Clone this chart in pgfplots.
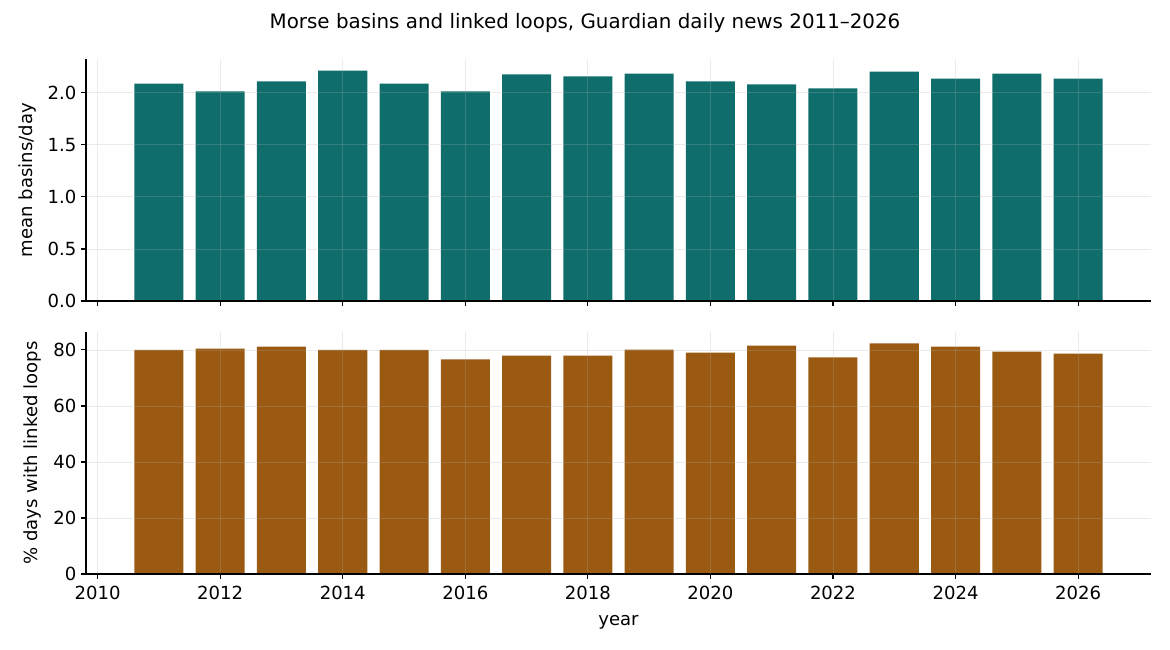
\documentclass[border=0pt]{standalone}
\usepackage{fontspec}
\setmainfont{DejaVu Sans}
\usepackage{pgfplots}
\pgfplotsset{compat=1.18}

\definecolor{basinteal}{RGB}{15,110,107}
\definecolor{loopbrown}{RGB}{154,90,18}
\definecolor{gridgrey}{RGB}{176,176,176}

% one px of the 1170x650 reference = 0.72pt
\pgfplotsset{
  panel/.style={
    scale only axis,
    width=766.8pt, height=174.24pt,
    anchor=south west,
    xmin=2009.81, xmax=2027.19,
    ymin=0,
    xtick={2010,2012,...,2026},
    axis x line*=bottom, axis y line*=left,
    axis line style={-, line width=0.8pt},
    tick align=outside,
    major tick length=3.5pt,
    tick style={black, line width=0.8pt},
    grid=major,
    grid style={gridgrey, opacity=0.25, line width=0.6pt},
    axis on top,
    ybar, bar width=0.8,
    tick label style={font=\fontsize{13}{15}\selectfont},
    xticklabel style={yshift=-2pt},
    label style={font=\fontsize{13}{15}\selectfont},
    /pgf/number format/assume math mode=true,
    /pgf/number format/1000 sep={},
  },
}

\begin{document}
\begin{tikzpicture}
\path[use as bounding box] (0,0) rectangle (842.4pt,468pt);

\node[font=\fontsize{14.3}{17}\selectfont] at (421.2pt,451.5pt)
  {Morse basins and linked loops, Guardian daily news 2011–2026};

\begin{axis}[panel,
    at={(61.92pt,251.28pt)},
    ymax=2.325,
    ytick={0,0.5,1,1.5,2},
    yticklabel style={/pgf/number format/.cd, fixed, fixed zerofill, precision=1},
    xticklabels={,,,,,,,,},
    ylabel={mean basins/day},
    ylabel style={at={(axis description cs:-0.0545,0.5)}, anchor=center},
]
\addplot[fill=basinteal, draw=none] coordinates {
  (2011,2.089) (2012,2.013) (2013,2.109) (2014,2.214)
  (2015,2.089) (2016,2.013) (2017,2.176) (2018,2.157)
  (2019,2.185) (2020,2.109) (2021,2.080) (2022,2.042)
  (2023,2.204) (2024,2.137) (2025,2.185) (2026,2.137)
};
\end{axis}

\begin{axis}[panel,
    at={(61.92pt,54.72pt)},
    ymax=86.4,
    ytick={0,20,40,60,80},
    xlabel={year},
    xlabel style={at={(axis description cs:0.5,-0.2)}, anchor=center},
    ylabel={\% days with linked loops},
    ylabel style={at={(axis description cs:-0.0502,0.5)}, anchor=center},
]
\addplot[fill=loopbrown, draw=none] coordinates {
  (2011,80.0) (2012,80.5) (2013,81.2) (2014,80.0)
  (2015,80.0) (2016,76.6) (2017,78.0) (2018,78.0)
  (2019,80.1) (2020,79.0) (2021,81.5) (2022,77.3)
  (2023,82.3) (2024,81.2) (2025,79.4) (2026,78.7)
};
\end{axis}
\end{tikzpicture}
\end{document}
